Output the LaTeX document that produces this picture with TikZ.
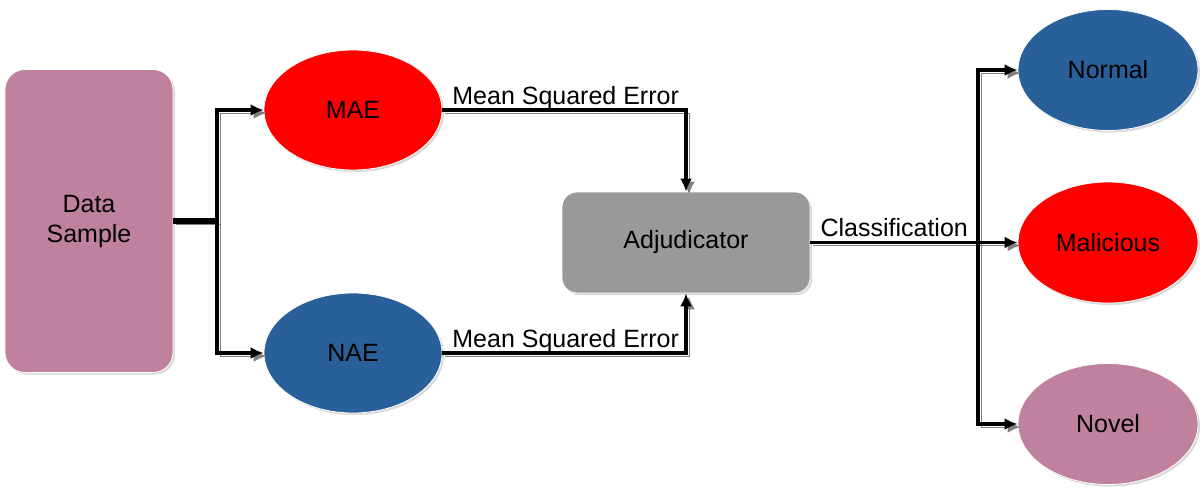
\documentclass[tikz,border=0pt]{standalone}
\usepackage{fontspec}
\setmainfont{Liberation Sans}
\usetikzlibrary{positioning,shapes.geometric,arrows.meta,shadows}
\definecolor{mauve}{RGB}{191,129,158}
\definecolor{navy}{RGB}{42,96,153}
\definecolor{slate}{RGB}{153,153,153}
\tikzset{>={Latex[length=6.5pt,width=6pt]}}
\tikzset{
  blob/.style={draw=white, thin, inner sep=0pt, font=\fontsize{12.5}{15}\selectfont,
    drop shadow={shadow xshift=1pt, shadow yshift=-1pt, opacity=.3}},
  oval/.style={blob, ellipse, minimum width=89pt, minimum height=60pt},
  link/.style={line width=1.9pt, preaction={draw=gray, transform canvas={shift={(1.5pt,-1.5pt)}}}},
  tag/.style={inner sep=0pt, anchor=base, yshift=2.8pt, font=\fontsize{12.5}{15}\selectfont}
}

\begin{document}
\begin{tikzpicture}
      \useasboundingbox (-44.5pt,110.5pt) rectangle (557pt,-137pt);
      \node[blob, rectangle, rounded corners=10pt, minimum width=84pt, minimum height=151.5pt, align=center, fill=mauve] (data) {Data\\Sample};
      \node[oval, right of=data, node distance=132pt, yshift=55.5pt, fill=red] (mae) {MAE};
      \node[oval, below of=mae, node distance=121.5pt, fill=navy] (nae) {NAE};
      \node[blob, rectangle, rounded corners=7.5pt, right of=data, node distance=298.5pt, yshift=-10.75pt, minimum width=124pt, minimum height=50.5pt, fill=slate] (adj) {Adjudicator};
      \node[oval, right of=adj, node distance=211pt, minimum width=90pt, minimum height=60.5pt, fill=red] (mal) {Malicious};
      \node[oval, above of=mal, node distance=86.25pt, minimum width=90pt, minimum height=60.5pt, fill=navy] (normal) {Normal};
      \node[oval, below of=mal, node distance=90.75pt, minimum width=90pt, minimum height=60.5pt, fill=mauve] (novel) {Novel};
      \coordinate[right of=data, node distance=64pt] (split1);
      \coordinate[right of=adj, node distance=146pt] (split2);
      \draw[link, line width=3.2pt] (data.east) -- (split1);
      \draw[link, ->] (split1) |- (mae.west);
      \draw[link, ->] (split1) |- (nae.west);
      \draw[link, ->] (mae.east) -| node[tag, pos=0.253]{Mean Squared Error} (adj.north);
      \draw[link, ->] (nae.east) -| node[tag, pos=0.253]{Mean Squared Error} (adj.south);
      \draw[link] (adj.east) -- node[tag]{Classification} (split2);
      \draw[link, ->] (split2) |- (normal.west);
      \draw[link, ->] (split2) -- (mal.west);
      \draw[link, ->] (split2) |- (novel.west);
    \end{tikzpicture}
\end{document}
